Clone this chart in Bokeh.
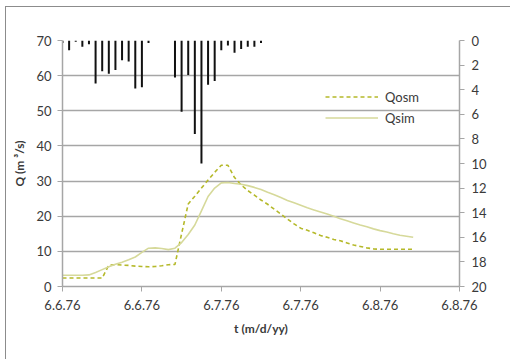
from math import pi

from bokeh.embed import file_html
from bokeh.resources import INLINE
from bokeh.plotting import figure
from bokeh.models import (Range1d, LinearAxis, FixedTicker, SingleIntervalTicker,
                          Legend, LegendItem, Label)

# hourly time axis (hours since 6.6.76 00:00)
tick_hours = [0, 12, 24, 36, 48, 60]
tick_labels = ["6.6.76", "6.6.76", "6.7.76", "6.7.76", "6.8.76", "6.8.76"]

# precipitation per hour (mm)
p_hours = list(range(0, 31))
p_mm = [0.2, 0.8, 0.1, 0.5, 0.3, 3.5, 2.5, 2.7, 2.4, 1.6, 1.7, 3.9, 3.8, 0.2,
        0.0, 0.0, 0.0, 3.0, 5.8, 2.8, 7.6, 10.0, 3.6, 3.3, 0.8, 0.4, 1.0, 0.7,
        0.5, 0.5, 0.2]

# discharge, observed and simulated (m3/s)
q_hours = list(range(0, 54))
q_osm = [2.4, 2.4, 2.4, 2.4, 2.4, 2.4, 2.4, 6.1, 6.2, 6.1, 6.0, 5.8, 5.7, 5.6,
         5.7, 5.9, 6.2, 6.3, 15.0, 23.5, 25.7, 28.0, 30.3, 32.5, 34.5, 34.5,
         31.0, 28.9, 27.3, 26.0, 24.6, 23.4, 22.0, 20.6, 19.2, 17.8, 16.6,
         16.0, 15.3, 14.5, 14.0, 13.4, 13.0, 12.4, 11.8, 11.4, 11.0, 10.7,
         10.6, 10.6, 10.6, 10.6, 10.6, 10.6]
q_sim = [3.2, 3.2, 3.2, 3.2, 3.3, 4.0, 4.8, 5.6, 6.3, 6.9, 7.6, 8.4, 9.7, 10.9,
         11.0, 10.8, 10.5, 10.9, 12.5, 14.8, 17.5, 21.5, 25.6, 28.0, 29.5,
         29.6, 29.3, 29.1, 28.7, 28.2, 27.6, 26.8, 26.1, 25.3, 24.5, 23.8,
         23.1, 22.4, 21.8, 21.2, 20.6, 20.0, 19.3, 18.7, 18.1, 17.5, 17.0,
         16.4, 15.9, 15.5, 15.0, 14.6, 14.3, 14.0]

FONT = "Lato"
TXT = "#3a3a3a"
GRID = "#a6a6a6"
C_OSM = "#b5b92a"
C_SIM = "#d6d99a"

# the figure sits inside a thin chart frame (left and top edges visible)
p = figure(width=505, height=353, output_backend="svg", toolbar_location=None,
           x_range=Range1d(0, 60), y_range=Range1d(0, 70),
           min_border_left=56, min_border_right=52, min_border_top=33,
           min_border_bottom=74)
p.margin = (7, 0, 0, 6)
p.styles = {"box-shadow": "-1px -1px 0 0 #8c8c8c"}
p.outline_line_color = None
p.background_fill_color = "white"
p.border_fill_color = "white"

# second y range for precipitation, reversed (0 at top)
p.extra_y_ranges = {"P": Range1d(20, 0)}

# discharge lines
r_osm = p.line(q_hours, q_osm, line_color=C_OSM, line_width=1.6, line_dash="4 3")
r_sim = p.line(q_hours, q_sim, line_color=C_SIM, line_width=1.6)

# precipitation bars hanging from the top
p.segment(x0=p_hours, y0=[0] * len(p_hours), x1=p_hours, y1=p_mm,
          y_range_name="P", line_color="#111111", line_width=2)

# grid
p.xgrid.visible = False
p.ygrid.grid_line_color = GRID
p.ygrid.grid_line_width = 1.5
p.ygrid.ticker = SingleIntervalTicker(interval=10)

# left axis (Q)
ya = p.yaxis[0]
ya.ticker = SingleIntervalTicker(interval=10)
ya.axis_label = "Q (m \u00b3/s)"
ya.axis_label_text_font = FONT
ya.axis_label_text_font_style = "bold"
ya.axis_label_text_font_size = "12px"
ya.axis_label_text_color = TXT
ya.axis_label_standoff = 6
ya.major_label_text_font = FONT
ya.major_label_text_font_size = "13px"
ya.major_label_text_color = TXT
ya.axis_line_color = GRID
ya.axis_line_width = 1.5
ya.major_tick_line_color = GRID
ya.major_tick_in = 0
ya.major_tick_out = 5
ya.minor_tick_line_color = None
ya.major_label_standoff = 6

# bottom axis (time)
xa = p.xaxis[0]
xa.ticker = FixedTicker(ticks=tick_hours)
xa.major_label_overrides = {h: lab for h, lab in zip(tick_hours, tick_labels)}
xa.axis_label = "t (m/d/yy)"
xa.axis_label_text_font = FONT
xa.axis_label_text_font_style = "bold"
xa.axis_label_text_font_size = "12px"
xa.axis_label_text_color = TXT
xa.axis_label_standoff = 8
xa.major_label_text_font = FONT
xa.major_label_text_font_size = "13px"
xa.major_label_text_color = TXT
xa.axis_line_color = GRID
xa.axis_line_width = 1.5
xa.major_tick_line_color = GRID
xa.major_tick_in = 0
xa.major_tick_out = 5
xa.minor_tick_line_color = None
xa.major_label_standoff = 8

# right axis (P)
pa = LinearAxis(y_range_name="P", ticker=SingleIntervalTicker(interval=2))
pa.major_label_text_font = FONT
pa.major_label_text_font_size = "13px"
pa.major_label_text_color = TXT
pa.axis_line_color = GRID
pa.axis_line_width = 1.5
pa.major_tick_line_color = GRID
pa.major_tick_in = 0
pa.major_tick_out = 5
pa.minor_tick_line_color = None
pa.major_label_standoff = 7
p.add_layout(pa, "right")

p.add_layout(Label(x=496, y=157, x_units="canvas", y_units="canvas",
                   text="P (mm)", angle=pi / 2, text_align="center",
                   text_baseline="middle", text_font=FONT,
                   text_font_style="bold", text_font_size="12px",
                   text_color=TXT))

# legend
legend = Legend(items=[LegendItem(label="Qosm", renderers=[r_osm]),
                       LegendItem(label="Qsim", renderers=[r_sim])],
                location=(263, 158), border_line_color=None,
                background_fill_alpha=0, glyph_width=53, glyph_height=21,
                label_height=21, padding=0, spacing=0, margin=0,
                label_standoff=7, label_text_font=FONT,
                label_text_font_size="13px", label_text_color=TXT)
p.add_layout(legend, "center")

open("out.html", "w").write(file_html(p, INLINE))
